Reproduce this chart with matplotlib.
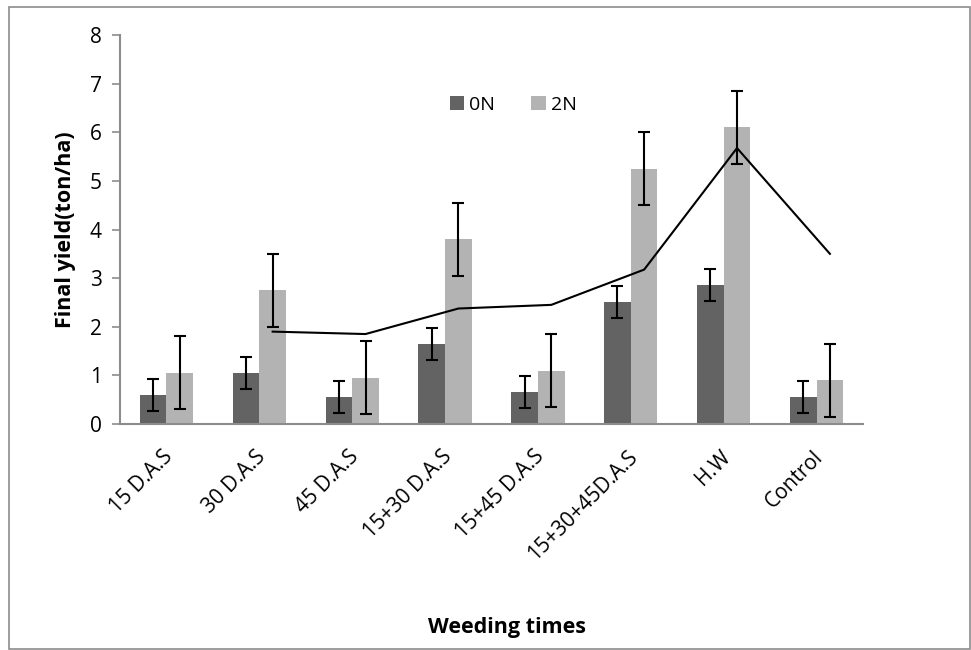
import numpy as np
import matplotlib.pyplot as plt
import matplotlib.transforms as mtransforms
from matplotlib.patches import Rectangle

# --- data ---
categories = ['15 D.A.S', '30 D.A.S', '45 D.A.S', '15+30 D.A.S', '15+45 D.A.S',
              '15+30+45D.A.S', 'H.W', 'Control']
yield_0n = [0.6, 1.05, 0.55, 1.65, 0.65, 2.5, 2.85, 0.55]
yield_2n = [1.05, 2.75, 0.95, 3.8, 1.1, 5.25, 6.1, 0.9]
err_0n = [0.33] * 8
err_2n = [0.75] * 8

# 2-period moving average of 2N (Excel trendline), starts at 2nd category
moving_avg = [(a + b) / 2 for a, b in zip(yield_2n[:-1], yield_2n[1:])]

plt.rcParams['font.family'] = ['Open Sans', 'DejaVu Sans']

fig = plt.figure(figsize=(9.71, 6.5), dpi=100)
ax = fig.add_axes([120 / 971, 1 - 424 / 650, 743 / 971, 389 / 650])

x = np.arange(len(categories))
w = 0.287
x0 = x - w / 2
x2 = x + w / 2

ax.bar(x0, yield_0n, w, color='#636363', label='0N', zorder=2)
ax.bar(x2, yield_2n, w, color='#b3b3b3', label='2N', zorder=2)
ax.errorbar(x0, yield_0n, yerr=err_0n, fmt='none', ecolor='black',
            elinewidth=1.5, capsize=4.2, capthick=1.5, zorder=3)
ax.errorbar(x2, yield_2n, yerr=err_2n, fmt='none', ecolor='black',
            elinewidth=1.5, capsize=4.2, capthick=1.5, zorder=3)
ax.plot(x2[1:], moving_avg, color='black', lw=1.5, zorder=4)

ax.set_xlim(-0.5, len(categories) - 0.5)
ax.set_ylim(0, 8)
ax.set_yticks(range(0, 9))
ax.set_xticks(x)
ax.set_xticklabels(categories, rotation=45, ha='right', rotation_mode='anchor',
                   fontsize=15)
ax.tick_params(axis='x', length=0, pad=16)
ax.tick_params(axis='y', length=6, width=1.2, color='#8c8c8c', labelsize=15, pad=7)

# small left nudge of the slanted labels
shift = mtransforms.ScaledTranslation(-4 / 100, 0, fig.dpi_scale_trans)
for lab in ax.get_xticklabels():
    lab.set_transform(lab.get_transform() + shift)

for s in ['top', 'right']:
    ax.spines[s].set_visible(False)
for s in ['left', 'bottom']:
    ax.spines[s].set_color('#8c8c8c')
    ax.spines[s].set_linewidth(1.5)

ax.set_ylabel('Final yield(ton/ha)', fontsize=15.5, fontweight='bold', labelpad=10)
fig.text(507 / 971, 1 - 628 / 650, 'Weeding times', fontsize=15.5,
         fontweight='bold', ha='center', va='center')

ax.legend(loc='center left', bbox_to_anchor=((442 - 120) / 743, (424 - 104.5) / 389),
          ncol=2, frameon=False, fontsize=14, handlelength=0.75, handleheight=0.75,
          columnspacing=1.85, handletextpad=0.25, borderaxespad=0)

fig.patches.append(Rectangle((9 / 971, 1 / 650), 0.999 - 9 / 971, 642 / 650,
                             transform=fig.transFigure, fill=False,
                             edgecolor='#8c8c8c', lw=1.2))

fig.savefig('out.png', dpi=100)
